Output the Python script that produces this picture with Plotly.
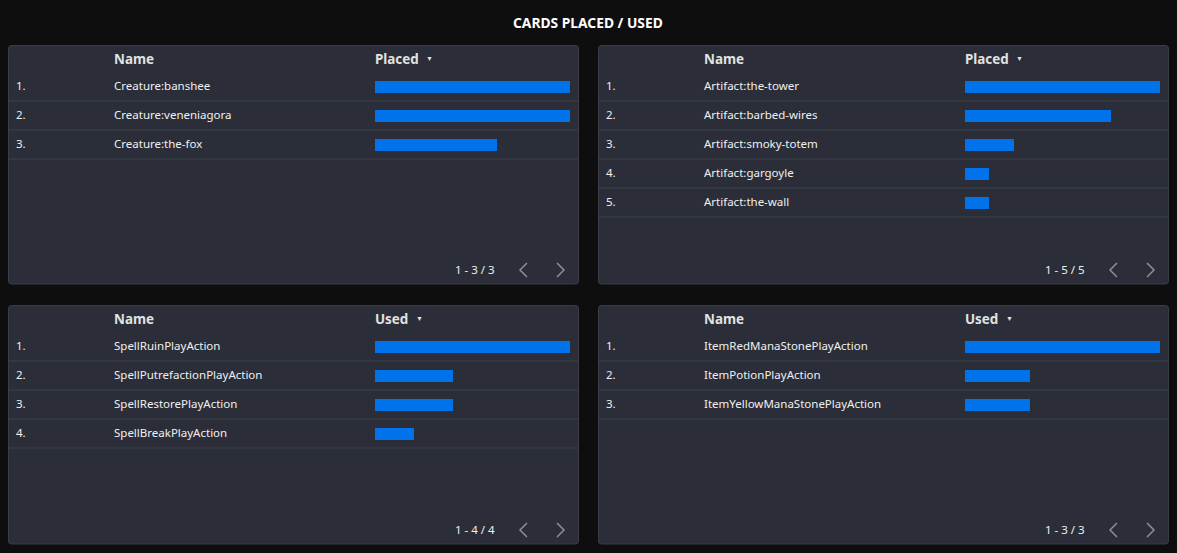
import plotly.graph_objects as go

W, H = 1177, 553

# ---- data ----
title = "CARDS PLACED / USED"
p1_names = ["Creature:banshee", "Creature:veneniagora", "Creature:the-fox"]
p1_vals = [8, 8, 5]
p2_names = ["Artifact:the-tower", "Artifact:barbed-wires", "Artifact:smoky-totem",
            "Artifact:gargoyle", "Artifact:the-wall"]
p2_vals = [8, 6, 2, 1, 1]
p3_names = ["SpellRuinPlayAction", "SpellPutrefactionPlayAction",
            "SpellRestorePlayAction", "SpellBreakPlayAction"]
p3_vals = [5, 2, 2, 1]
p4_names = ["ItemRedManaStonePlayAction", "ItemPotionPlayAction",
            "ItemYellowManaStonePlayAction"]
p4_vals = [3, 1, 1]
metrics = ["Placed", "Placed", "Used", "Used"]

panels = [
    dict(names=p1_names, vals=p1_vals, metric=metrics[0], ox=0, oy=0),
    dict(names=p2_names, vals=p2_vals, metric=metrics[1], ox=590, oy=0),
    dict(names=p3_names, vals=p3_vals, metric=metrics[2], ox=0, oy=260),
    dict(names=p4_names, vals=p4_vals, metric=metrics[3], ox=590, oy=260),
]

BG = "#0e0e0f"
PANEL = "#2b2e38"
BORDER = "#3b3e48"
SEP = "#3d4049"
BAR = "#0073ea"
TXT = "#f0f0f0"
HDR = "#e2e2e2"
MUTED = "#8c8f97"
FONT = "Noto Sans"

def fx(px):
    return px / W

def fy(py):
    return 1 - py / H

fig = go.Figure()
shapes = []
ann = []

ROW = 29
NROWS = 5

def rounded_rect(x0, y0, x1, y1, r):
    X = lambda v: f"{fx(v):.6f}"
    Y = lambda v: f"{fy(v):.6f}"
    return (f"M {X(x0 + r)} {Y(y0)} L {X(x1 - r)} {Y(y0)} Q {X(x1)} {Y(y0)} {X(x1)} {Y(y0 + r)} "
            f"L {X(x1)} {Y(y1 - r)} Q {X(x1)} {Y(y1)} {X(x1 - r)} {Y(y1)} "
            f"L {X(x0 + r)} {Y(y1)} Q {X(x0)} {Y(y1)} {X(x0)} {Y(y1 - r)} "
            f"L {X(x0)} {Y(y0 + r)} Q {X(x0)} {Y(y0)} {X(x0 + r)} {Y(y0)} Z")

def text(x, y, s, size, color=TXT, xanchor="left"):
    ann.append(dict(x=fx(x), y=fy(y), text=s, showarrow=False, xanchor=xanchor,
                    yanchor="middle", xref="paper", yref="paper", borderpad=0,
                    font=dict(family=FONT, size=size, color=color)))

for i, p in enumerate(panels):
    ox, oy = p["ox"], p["oy"]
    n = len(p["names"])
    # panel background
    shapes.append(dict(type="path", xref="paper", yref="paper",
                       path=rounded_rect(8.5 + ox, 45.5 + oy, 578.5 + ox, 284 + oy, 3),
                       fillcolor=PANEL, line=dict(color=BORDER, width=1), layer="below"))
    # row separators
    for k in range(n):
        yy = 72 + ROW * (k + 1) + oy
        shapes.append(dict(type="line", xref="paper", yref="paper",
                           x0=fx(9 + ox), x1=fx(578 + ox), y0=fy(yy), y1=fy(yy),
                           line=dict(color=SEP, width=1), layer="below"))
    # header
    text(113 + ox, 58.8 + oy, "<b>Name</b>", 13.4, HDR)
    text(374 + ox, 58.8 + oy, f"<b>{p['metric']}</b>", 13.4, HDR)
    hx = 374 + ox + (44 if p["metric"] == "Placed" else 34) + 7
    text(hx, 58.5 + oy, "▼", 7, HDR)
    # rows
    for k, name in enumerate(p["names"]):
        yc = 72 + ROW * k + ROW / 2 + oy - 1
        text(15 + ox, yc, f"{k + 1}.", 11.5)
        text(113 + ox, yc, name, 11.5)
    # footer
    text(496 + ox, 269.5 + oy, f"1 - {n} / {n}", 11.5, xanchor="right")
    for pts in ([(527, 263), (520, 270), (527, 277)], [(557, 263), (564, 270), (557, 277)]):
        path = "M " + " L ".join(f"{fx(a + ox):.6f} {fy(b + oy):.6f}" for a, b in pts)
        shapes.append(dict(type="path", xref="paper", yref="paper", path=path,
                           line=dict(color=MUTED, width=1.5)))
    # bars
    ax = "" if i == 0 else str(i + 1)
    fig.add_trace(go.Bar(
        x=p["vals"], y=list(range(n)), orientation="h",
        marker=dict(color=BAR, line=dict(width=0)), width=12 / ROW,
        xaxis="x" + ax, yaxis="y" + ax, hoverinfo="skip", showlegend=False))
    ytop = 71.5 + oy
    ybot = 71.5 + ROW * NROWS + oy
    fig.update_layout(**{
        "xaxis" + ax: dict(domain=[fx(375 + ox), fx(570 + ox)], range=[0, max(p["vals"])],
                           showgrid=False, zeroline=False, showticklabels=False,
                           showline=False, fixedrange=True, anchor="y" + ax),
        "yaxis" + ax: dict(domain=[fy(ybot), fy(ytop)], range=[NROWS - 0.5, -0.5],
                           showgrid=False, zeroline=False, showticklabels=False,
                           showline=False, fixedrange=True, anchor="x" + ax),
    })

text(588, 22, f"<b>{title}</b>", 13.8, "#ffffff", xanchor="center")

fig.update_layout(width=W, height=H, margin=dict(l=0, r=0, t=0, b=0),
                  paper_bgcolor=BG, plot_bgcolor="rgba(0,0,0,0)",
                  shapes=shapes, annotations=ann, bargap=0)
fig.write_html("out.html", config={"displayModeBar": False})
